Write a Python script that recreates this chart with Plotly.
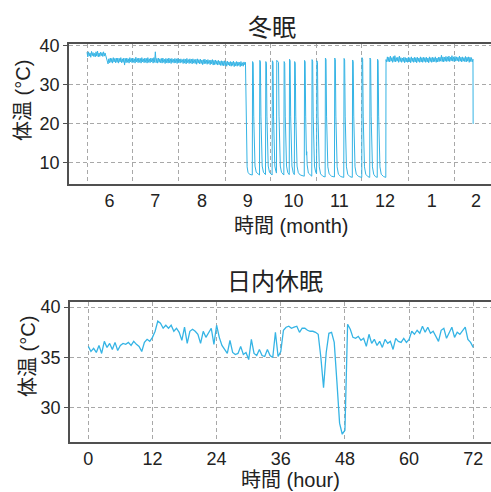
import plotly.graph_objects as go

# ---------------- data: hibernation (冬眠) ----------------
# x unit: days since June 1
month_bounds = [0, 30, 61, 92, 122, 153, 183, 214, 245, 273]
month_labels = ["6", "7", "8", "9", "10", "11", "12", "1", "2"]

# pre-hibernation body temperature, sampled every 0.5 day from day 0
pre_start, pre_step = 0.0, 0.5
pre_temp = [
    38.4, 37.2, 38.5, 37.4, 38.2, 37.1, 38.6, 37.5, 38.3, 37.3,
    38.1, 37.2, 38.5, 37.4, 38.7, 37.2, 38.2, 37.3, 38.4, 37.5,
    38.3, 37.3, 38.5, 37.4, 38.2, 37.6, 37.0, 36.4, 35.4, 36.7,
    35.7, 36.9, 35.8, 36.8, 35.6, 37.0, 35.9, 36.8, 35.7, 36.9,
    35.8, 36.9, 35.6, 36.8, 35.9, 37.0, 35.7, 36.7, 35.8, 36.9,
    35.1, 36.8, 35.7, 36.9, 35.8, 36.7, 35.6, 37.0, 35.9, 36.8,
    35.7, 36.9, 35.8, 36.7, 35.6, 37.1, 35.9, 36.8, 35.7, 36.9,
    35.8, 36.8, 35.6, 37.0, 35.9, 36.7, 35.7, 36.9, 35.8, 36.8,
    35.6, 37.0, 35.8, 36.7, 35.7, 36.9, 35.9, 36.8, 35.6, 37.0,
    35.8, 38.5, 35.7, 36.8, 35.6, 36.9, 35.8, 36.7, 35.7, 36.8,
    35.6, 36.9, 35.8, 36.6, 35.5, 36.8, 35.7, 36.7, 35.6, 36.9,
    35.7, 36.7, 35.5, 36.8, 35.8, 36.6, 35.6, 36.8, 35.7, 36.7,
    35.5, 36.8, 35.7, 36.6, 35.6, 36.7, 35.8, 36.5, 35.5, 36.7,
    35.6, 36.6, 35.4, 36.8, 35.7, 36.5, 35.5, 36.7, 35.6, 36.6,
    35.4, 36.7, 35.6, 36.5, 35.5, 36.6, 35.3, 36.7, 35.6, 36.5,
    35.4, 36.6, 35.5, 36.4, 35.2, 36.5, 35.4, 36.6, 35.5, 36.4,
    35.3, 36.5, 35.5, 36.3, 35.2, 36.4, 35.4, 36.5, 35.1, 36.3,
    35.2, 36.4, 35.3, 36.2, 35.1, 36.3, 35.2, 36.1, 35.0, 36.2,
    35.0, 36.1, 34.9, 36.2, 35.0, 36.0, 34.8, 36.1, 35.1, 35.9,
    34.9, 36.0, 34.8, 35.9, 35.0, 36.1, 34.7, 35.8, 34.9, 36.0,
    34.8, 35.9, 35.0, 35.8, 34.7, 36.0, 34.9, 35.7, 34.8, 35.9,
    35.2,
]

# torpor / arousal bouts
torpor_day = [
    105.5, 105.8, 106.1, 106.4, 106.6, 107.2, 108.2, 110.05,
    110.25, 110.65, 111.0, 111.35, 111.85, 112.7, 113.8, 114.85,
    115.05, 115.45, 115.8, 116.15, 116.65, 117.5, 118.85,
    119.05, 119.45, 119.8, 120.15, 120.65, 121.5, 123.25,
    123.45, 123.85, 124.2, 124.55, 125.05, 125.8, 126.15,
    126.35, 126.9, 127.5, 127.85, 128.2, 128.7, 129.5, 131.05,
    131.25, 131.65, 132.0, 132.35, 132.85, 133.7, 134.65,
    134.85, 135.25, 135.6, 135.95, 136.45, 137.3, 138.05,
    138.25, 138.65, 139.0, 139.35, 139.85, 140.7, 142.0, 144.65,
    144.85, 145.25, 145.6, 145.9, 146.1, 146.3, 146.6, 147.4, 149.65,
    149.85, 150.25, 150.6, 150.95, 151.45, 152.3, 152.85,
    153.05, 153.45, 153.8, 154.15, 154.65, 155.5, 157.0, 158.55,
    158.75, 159.15, 159.5, 159.85, 160.35, 161.2, 162.8, 164.75,
    164.95, 165.35, 165.7, 166.05, 166.55, 167.4, 169.0, 170.95,
    171.15, 171.55, 171.9, 172.25, 172.75, 173.6, 175.0, 176.65,
    176.85, 177.25, 177.6, 177.95, 178.45, 179.3, 181.0, 182.95,
    183.15, 183.55, 183.9, 184.25, 184.75, 185.6, 187.0, 188.25,
    188.45, 188.85, 189.2, 189.55, 190.05, 190.9, 192.0, 193.25,
    193.45, 193.85, 194.2, 194.55, 195.05, 195.9, 197.5, 198.95,
    199.1,
]
torpor_temp = [
    35.8, 24.0, 10.8, 10.6, 9.0, 7.6, 7.1, 6.9,
    36.0, 35.6, 22.0, 13.0, 9.2, 7.6, 7.1, 6.9,
    36.3, 35.9, 22.0, 13.0, 9.2, 7.6, 7.0,
    36.0, 35.6, 22.0, 13.0, 9.2, 7.6, 6.9,
    36.2, 35.8, 22.0, 13.0, 9.2, 7.8, 7.4,
    36.3, 36.0, 35.8, 22.0, 13.0, 9.2, 7.6, 6.9,
    36.0, 35.6, 22.0, 13.0, 9.2, 7.5, 7.0,
    36.6, 36.2, 22.0, 13.0, 9.2, 7.5, 7.0,
    36.0, 35.6, 22.0, 13.0, 9.2, 7.5, 6.9, 6.6,
    36.3, 35.9, 22.0, 13.5, 12.0, 12.9, 9.5, 7.4, 6.6,
    36.5, 36.1, 22.0, 13.0, 9.2, 7.6, 7.2,
    36.2, 35.8, 22.0, 13.0, 9.0, 7.2, 6.6, 6.4,
    36.9, 36.5, 22.0, 13.0, 9.0, 7.2, 6.6, 6.4,
    36.9, 36.5, 22.0, 13.0, 9.0, 7.1, 6.5, 6.3,
    36.8, 36.4, 22.0, 13.0, 9.0, 7.1, 6.5, 6.3,
    36.4, 36.0, 22.0, 13.0, 9.0, 7.1, 6.5, 6.3,
    37.0, 36.6, 22.0, 13.0, 9.0, 7.1, 6.5, 6.3,
    36.9, 36.5, 22.0, 13.0, 9.0, 7.1, 6.5, 6.3,
    36.6, 36.2, 22.0, 13.0, 9.0, 7.1, 6.5, 6.3,
    36.5,
]

# post-hibernation, sampled every 0.5 day from day 199.5
post_start, post_step = 199.5, 0.5
post_temp = [
    35.9, 37.2, 36.0, 37.1, 35.9, 37.4, 36.1, 37.0, 35.8, 37.3,
    36.0, 37.5, 35.9, 37.0, 36.1, 37.1, 35.8, 37.4, 36.0, 37.0,
    35.8, 36.9, 36.0, 37.1, 35.7, 37.0, 35.9, 36.9, 35.8, 37.1,
    35.9, 37.0, 35.7, 37.2, 36.0, 36.9, 35.8, 37.1, 35.9, 37.0,
    35.7, 37.1, 36.0, 36.9, 35.8, 37.2, 35.9, 37.0, 35.8, 37.1,
    36.0, 37.0, 35.8, 37.1, 35.9, 36.9, 35.7, 37.2, 36.0, 37.0,
    35.8, 37.1, 35.9, 37.0, 36.0, 37.2, 35.8, 36.9, 35.9, 37.1,
    36.0, 37.1, 36.1, 37.6, 36.0, 37.2, 35.9, 37.1, 36.1, 37.3,
    36.0, 37.2, 36.1, 37.4, 36.0, 37.1, 36.2, 37.5, 36.1, 37.2,
    36.0, 37.3, 36.1, 37.2, 36.2, 37.1, 36.0, 37.4, 36.1, 37.1,
    35.9, 37.2, 36.1, 37.0, 36.0, 37.3, 35.9, 37.1, 36.1, 37.2,
    35.8, 37.1, 36.0, 37.0, 35.9, 36.6,
]
end_day = [257.1]
end_temp = [20.0]

# ---------------- data: daily torpor (日内休眠) ----------------
# x unit: hours, sampled every 0.5 h from 0
daily_start, daily_step = 0.0, 0.5
daily_temp = [
    36.1, 35.6, 35.9, 35.5, 36.2, 35.4, 36.6, 36.0, 36.4, 35.8,
    36.5, 35.7, 36.2, 36.4, 36.3, 36.5, 36.2, 36.6, 36.3, 36.1,
    35.6, 36.5, 36.8, 36.6, 37.0, 37.6, 38.6, 38.4, 37.9, 38.2,
    37.9, 38.2, 37.6, 37.9, 37.5, 36.7, 38.0, 36.4, 37.6, 37.8,
    37.6, 37.3, 36.4, 37.6, 37.0, 37.4, 37.9, 36.3, 38.2, 37.0,
    36.2, 35.8, 35.4, 36.7, 35.5, 35.3, 35.4, 36.1, 35.3, 35.5,
    34.8, 36.8, 35.4, 35.2, 35.8, 35.2, 35.1, 35.8, 35.2, 35.0,
    37.5, 35.1, 35.6, 37.7, 38.0, 38.1, 37.9, 38.0, 38.1, 37.5,
    37.9, 37.9, 37.7, 37.6, 37.6, 37.5, 37.3, 35.0, 32.0, 35.5,
    37.4, 37.5, 36.5, 32.6, 28.5, 27.4, 27.8, 38.3, 37.8, 37.0,
    36.9, 37.1, 36.7, 36.9, 36.1, 37.3, 36.4, 36.8, 36.2, 36.6,
    36.0, 36.8, 36.4, 36.6, 35.8, 36.9, 36.6, 36.5, 36.9, 36.5,
    36.8, 37.6, 37.3, 37.7, 37.4, 38.1, 37.5, 38.0, 37.4, 37.6,
    37.1, 36.6, 37.7, 37.9, 36.9, 37.4, 38.0, 37.0, 37.5, 37.3,
    37.6, 38.0, 36.8, 36.5, 36.0,
]
hour_ticks = [0, 12, 24, 36, 48, 60, 72]

# ---------------- build ----------------
pre_day = [pre_start + i * pre_step for i in range(len(pre_temp))]
post_day = [post_start + i * post_step for i in range(len(post_temp))]
hib_x = pre_day + torpor_day + post_day + end_day
hib_y = pre_temp + torpor_temp + post_temp + end_temp
daily_x = [daily_start + i * daily_step for i in range(len(daily_temp))]
month_mid = [(a + b) / 2 for a, b in zip(month_bounds[:-1], month_bounds[1:])]

FONT = "Liberation Sans, Arial, Noto Sans CJK JP, sans-serif"
LINE = "#35b4e5"
GRID = "#a8a8a8"
AXIS = "#505050"
W, H = 491, 492
ML = 69

fig = go.Figure()
fig.add_trace(go.Scatter(x=hib_x, y=hib_y, mode="lines",
                         line=dict(color=LINE, width=1),
                         xaxis="x", yaxis="y", showlegend=False))
fig.add_trace(go.Scatter(x=daily_x, y=daily_temp, mode="lines",
                         line=dict(color=LINE, width=1.3),
                         xaxis="x2", yaxis="y2", showlegend=False))

def py(p):
    return (H - p) / H

def px(p):
    return (p - ML) / (W - ML)

common_axis = dict(showline=True, linecolor=AXIS, linewidth=1.5, automargin=False,
                   zeroline=False, tickfont=dict(family=FONT, size=18, color="#222"))

fig.update_layout(
    width=W, height=H,
    margin=dict(l=ML, r=0, t=0, b=0, autoexpand=False),
    showlegend=False,
    paper_bgcolor="white", plot_bgcolor="white",
    font=dict(family=FONT, color="#222"),
    xaxis=dict(domain=[0, 1], range=[-12, 269], anchor="y", mirror=True,
               tickmode="array", tickvals=month_mid, ticktext=month_labels,
               showgrid=False, ticks="",
               minor=dict(tickmode="array", tickvals=month_bounds, showgrid=True,
                          gridcolor=GRID, griddash="4px,3px", gridwidth=1, ticks=""),
               **common_axis),
    yaxis=dict(domain=[py(184), py(44)], range=[4.6, 40.5], anchor="x",
               tickvals=[10, 20, 30, 40], showgrid=True, gridcolor=GRID,
               griddash="4px,3px", gridwidth=1, ticks="outside", ticklen=4,
               tickcolor=AXIS, **common_axis),
    xaxis2=dict(domain=[1 / (W - ML), 1], range=[-3.42, 75.32], anchor="y2", mirror=True,
                tickvals=hour_ticks, showgrid=True, gridcolor=GRID,
                griddash="4px,3px", gridwidth=1, ticks="", **common_axis),
    yaxis2=dict(domain=[py(441.7), py(302)], range=[26.66, 40.5], anchor="x2",
                tickvals=[30, 35, 40], showgrid=True, gridcolor=GRID,
                griddash="4px,3px", gridwidth=1, ticks="outside", ticklen=4,
                tickcolor=AXIS, **common_axis),
)

def label(text, x, y, size, angle=0):
    fig.add_annotation(text=text, x=px(x), y=py(y), xref="paper", yref="paper",
                       xanchor="center", yanchor="middle", showarrow=False,
                       textangle=angle, font=dict(family=FONT, size=size, color="#222"))

label("冬眠", 272, 28, 24)
label("日内休眠", 275, 281, 24)
label("時間 (month)", 291, 226, 20)
label("時間 (hour)", 290, 480, 20)
label("体温 (°C)", 23, 101, 20, -90)
label("体温 (°C)", 28, 357, 20, -90)

fig.write_html("out.html", config={"displayModeBar": False},
               post_script="document.body.style.margin='0';document.body.style.overflow='hidden';")
